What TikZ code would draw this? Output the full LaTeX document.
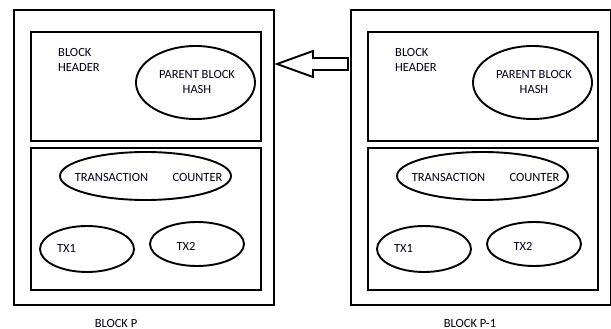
\documentclass[tikz,border=0pt]{standalone}
\usepackage{fontspec}
\setmainfont{Carlito}
\usetikzlibrary{shapes.geometric}
\begin{document}
\begin{tikzpicture}[x=1pt,y=-1pt,
  box/.style={draw=black,line width=2.6pt},
  oval/.style={draw=black,line width=1.9pt,ellipse,inner sep=0pt},
  lbl/.style={font=\fontsize{12.5}{14}\selectfont,text=black!90!blue,inner sep=0pt},
  blockarrow/.style={draw=black,line width=1.9pt,line join=miter,fill=white}]
\useasboundingbox (0,0) rectangle (611,329);
\foreach \dx/\nm/\cap/\cx in {0/L/BLOCK P/116,337/R/BLOCK P-1/133}{
  \begin{scope}[xshift=\dx]
    \node[box,minimum width=260pt,minimum height=295pt] (\nm outer) at (144,157.5) {};
    \node[box,minimum width=230pt,minimum height=109pt] (\nm head) at (146,86.5) {};
    \node[box,minimum width=230pt,minimum height=142pt] (\nm body) at (146,219) {};
    \node[lbl,align=left,anchor=north west] (\nm bh) at (58,48) {BLOCK\\[1pt]HEADER};
    \node[oval,minimum width=119pt,minimum height=73pt] (\nm pbh) at (195.5,82.5) {};
    \node[lbl,align=center] (\nm pbht) at (197,81.5) {PARENT BLOCK\\[1pt]HASH};
    \node[oval,minimum width=171pt,minimum height=48pt] (\nm tc) at (145.5,176) {};
    \node[lbl] (\nm tct) at (111.5,177) {TRANSACTION};
    \node[lbl] (\nm tcc) at (197.5,177) {COUNTER};
    \node[oval,minimum width=94pt,minimum height=46pt] (\nm tx1) at (87,249) {};
    \node[lbl] (\nm tx1t) at (66.5,248) {TX1};
    \node[oval,minimum width=94pt,minimum height=44pt] (\nm tx2) at (197,244) {};
    \node[lbl] (\nm tx2t) at (186,246) {TX2};
    \node[lbl] (\nm cap) at (\cx,323) {\cap};
  \end{scope}
}
\coordinate (tip) at (277,64);
\draw[blockarrow] (tip) -- (313,51) -- (313,58) -- (348,58) -- (348,70) -- (313,70) -- (313,77) -- cycle;
\end{tikzpicture}
\end{document}
